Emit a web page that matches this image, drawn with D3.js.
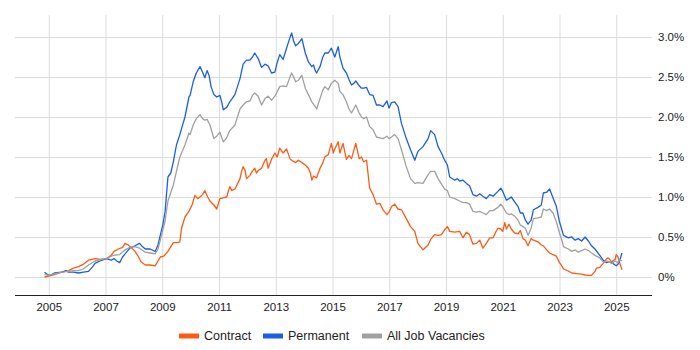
<!DOCTYPE html>
<html>
<head>
<meta charset="utf-8">
<script src="https://cdn.jsdelivr.net/npm/d3@7"></script>
<style>
  html, body { margin: 0; padding: 0; background: #fff; }
  svg { display: block; font-family: "Liberation Sans", Arial, sans-serif; }
</style>
</head>
<body>
<svg id="chart" width="700" height="350"></svg>
<script>
// ---- Data (year, % share) ----
const contract = [
  [2004.85,0.00],[2005.0,0.01],[2005.2,0.03],[2005.46,0.06],[2005.7,0.08],[2005.87,0.11],[2006.05,0.13],[2006.22,0.16],
  [2006.4,0.21],[2006.63,0.23],[2006.85,0.22],[2007.04,0.23],[2007.2,0.27],[2007.3,0.32],[2007.45,0.35],[2007.6,0.37],
  [2007.69,0.42],[2007.8,0.40],[2007.9,0.37],[2008.04,0.32],[2008.15,0.26],[2008.25,0.19],[2008.4,0.15],[2008.57,0.15],
  [2008.75,0.14],[2008.93,0.25],[2009.05,0.26],[2009.2,0.32],[2009.39,0.43],[2009.55,0.43],[2009.62,0.44],[2009.68,0.61],
  [2009.8,0.75],[2009.94,0.82],[2010.05,0.90],[2010.15,1.02],[2010.25,0.98],[2010.33,1.00],[2010.42,1.03],[2010.5,1.08],
  [2010.6,1.00],[2010.68,0.95],[2010.82,0.90],[2010.92,0.85],[2011.03,0.98],[2011.15,0.99],[2011.27,1.00],[2011.38,1.13],
  [2011.45,1.08],[2011.56,1.10],[2011.66,1.17],[2011.74,1.23],[2011.8,1.33],[2011.85,1.38],[2011.92,1.33],[2011.97,1.23],
  [2012.09,1.27],[2012.17,1.32],[2012.26,1.36],[2012.32,1.30],[2012.38,1.33],[2012.5,1.36],[2012.62,1.46],[2012.67,1.48],
  [2012.73,1.36],[2012.85,1.47],[2012.97,1.55],[2013.05,1.50],[2013.14,1.61],[2013.26,1.55],[2013.38,1.60],[2013.5,1.48],
  [2013.56,1.46],[2013.7,1.43],[2013.8,1.46],[2013.92,1.43],[2014.04,1.40],[2014.15,1.36],[2014.22,1.30],[2014.27,1.21],
  [2014.33,1.26],[2014.44,1.24],[2014.56,1.36],[2014.65,1.42],[2014.73,1.50],[2014.85,1.53],[2014.96,1.67],[2015.03,1.55],
  [2015.08,1.60],[2015.2,1.69],[2015.26,1.55],[2015.37,1.67],[2015.49,1.47],[2015.58,1.52],[2015.67,1.48],[2015.82,1.67],
  [2015.94,1.48],[2016.02,1.50],[2016.1,1.44],[2016.2,1.46],[2016.31,1.11],[2016.43,1.03],[2016.55,0.91],[2016.67,0.92],
  [2016.78,0.84],[2016.92,0.78],[2016.99,0.81],[2017.08,0.88],[2017.19,0.91],[2017.31,0.85],[2017.43,0.84],[2017.6,0.73],
  [2017.75,0.63],[2017.9,0.57],[2018.01,0.42],[2018.19,0.34],[2018.37,0.40],[2018.46,0.47],[2018.6,0.53],[2018.72,0.52],
  [2018.84,0.53],[2018.95,0.59],[2019.05,0.63],[2019.13,0.57],[2019.31,0.56],[2019.48,0.57],[2019.6,0.49],[2019.72,0.56],
  [2019.83,0.53],[2019.95,0.41],[2020.07,0.42],[2020.19,0.46],[2020.3,0.36],[2020.42,0.42],[2020.54,0.49],[2020.66,0.49],
  [2020.75,0.56],[2020.83,0.61],[2020.93,0.60],[2021.0,0.57],[2021.07,0.68],[2021.13,0.60],[2021.22,0.66],[2021.3,0.60],
  [2021.42,0.55],[2021.54,0.54],[2021.62,0.58],[2021.71,0.48],[2021.8,0.46],[2021.89,0.39],[2022.0,0.48],[2022.08,0.46],
  [2022.24,0.44],[2022.36,0.40],[2022.43,0.39],[2022.55,0.34],[2022.65,0.30],[2022.77,0.28],[2022.89,0.26],[2023.0,0.18],
  [2023.1,0.13],[2023.14,0.10],[2023.31,0.075],[2023.43,0.05],[2023.55,0.045],[2023.66,0.04],[2023.78,0.035],[2023.9,0.025],
  [2024.02,0.02],[2024.13,0.02],[2024.25,0.07],[2024.3,0.11],[2024.42,0.12],[2024.54,0.17],[2024.66,0.23],[2024.72,0.24],
  [2024.84,0.19],[2024.96,0.22],[2025.0,0.28],[2025.06,0.25],[2025.12,0.18],[2025.2,0.09]
];

const permanent = [
  [2004.85,0.06],[2004.95,0.03],[2005.05,0.02],[2005.2,0.05],[2005.46,0.06],[2005.6,0.08],[2005.7,0.06],[2005.87,0.06],
  [2006.05,0.05],[2006.22,0.06],[2006.4,0.07],[2006.55,0.13],[2006.63,0.17],[2006.8,0.20],[2007.04,0.23],[2007.2,0.21],
  [2007.3,0.23],[2007.4,0.20],[2007.5,0.18],[2007.6,0.25],[2007.69,0.29],[2007.86,0.36],[2008.04,0.39],[2008.2,0.42],
  [2008.3,0.38],[2008.4,0.35],[2008.57,0.35],[2008.75,0.32],[2008.85,0.40],[2008.93,0.52],[2009.02,0.65],[2009.1,0.82],
  [2009.2,1.25],[2009.3,1.30],[2009.39,1.44],[2009.5,1.65],[2009.62,1.78],[2009.7,1.88],[2009.8,2.00],[2009.94,2.25],
  [2009.98,2.27],[2010.09,2.44],[2010.2,2.55],[2010.33,2.63],[2010.42,2.56],[2010.5,2.49],[2010.58,2.58],[2010.65,2.52],
  [2010.72,2.38],[2010.82,2.28],[2010.92,2.25],[2011.03,2.27],[2011.1,2.18],[2011.15,2.09],[2011.27,2.12],[2011.38,2.19],
  [2011.48,2.24],[2011.56,2.28],[2011.65,2.38],[2011.74,2.48],[2011.85,2.66],[2011.97,2.71],[2012.09,2.71],[2012.18,2.75],
  [2012.26,2.80],[2012.38,2.73],[2012.5,2.62],[2012.62,2.66],[2012.73,2.64],[2012.85,2.55],[2012.97,2.56],[2013.05,2.68],
  [2013.14,2.78],[2013.26,2.72],[2013.38,2.86],[2013.48,2.97],[2013.56,3.05],[2013.63,2.95],[2013.7,2.89],[2013.8,2.92],
  [2013.92,2.98],[2014.04,2.80],[2014.15,2.69],[2014.27,2.63],[2014.33,2.65],[2014.39,2.58],[2014.44,2.55],[2014.56,2.63],
  [2014.65,2.74],[2014.73,2.80],[2014.85,2.80],[2014.96,2.86],[2015.08,2.75],[2015.2,2.88],[2015.26,2.75],[2015.37,2.61],
  [2015.49,2.55],[2015.58,2.47],[2015.67,2.40],[2015.75,2.42],[2015.82,2.45],[2015.94,2.39],[2016.02,2.36],[2016.1,2.36],
  [2016.2,2.37],[2016.31,2.28],[2016.43,2.27],[2016.55,2.15],[2016.67,2.15],[2016.78,2.13],[2016.92,2.20],[2016.99,2.11],
  [2017.08,2.18],[2017.19,2.19],[2017.31,2.13],[2017.43,1.92],[2017.6,1.73],[2017.75,1.59],[2017.9,1.46],[2018.01,1.57],
  [2018.19,1.63],[2018.37,1.73],[2018.46,1.83],[2018.6,1.78],[2018.72,1.63],[2018.84,1.55],[2018.95,1.46],[2019.05,1.40],
  [2019.13,1.25],[2019.31,1.21],[2019.4,1.23],[2019.48,1.20],[2019.6,1.21],[2019.72,1.17],[2019.83,1.14],[2019.95,1.03],
  [2020.07,1.01],[2020.19,1.04],[2020.3,1.01],[2020.42,0.98],[2020.54,1.03],[2020.66,1.01],[2020.83,1.07],[2020.93,1.11],
  [2021.0,1.07],[2021.13,0.96],[2021.22,0.98],[2021.3,1.00],[2021.42,0.94],[2021.54,0.88],[2021.62,0.80],[2021.71,0.80],
  [2021.8,0.71],[2021.89,0.66],[2022.0,0.71],[2022.08,0.84],[2022.24,0.87],[2022.36,0.90],[2022.43,1.05],[2022.55,1.06],
  [2022.65,1.10],[2022.77,0.99],[2022.89,0.88],[2023.0,0.69],[2023.1,0.57],[2023.14,0.52],[2023.31,0.49],[2023.43,0.50],
  [2023.55,0.46],[2023.66,0.48],[2023.78,0.45],[2023.9,0.50],[2024.02,0.45],[2024.13,0.39],[2024.25,0.35],[2024.42,0.27],
  [2024.54,0.21],[2024.66,0.18],[2024.72,0.19],[2024.84,0.18],[2024.96,0.15],[2025.0,0.14],[2025.06,0.16],[2025.12,0.20],
  [2025.2,0.30]
];

const allJobs = [
  [2004.85,0.03],[2005.0,0.02],[2005.2,0.04],[2005.46,0.06],[2005.7,0.07],[2005.87,0.08],[2006.05,0.08],[2006.22,0.10],
  [2006.4,0.15],[2006.63,0.20],[2006.85,0.22],[2007.04,0.23],[2007.2,0.26],[2007.33,0.275],[2007.5,0.28],[2007.69,0.34],
  [2007.86,0.37],[2008.04,0.38],[2008.2,0.36],[2008.4,0.31],[2008.57,0.30],[2008.75,0.29],[2008.85,0.35],[2008.93,0.46],
  [2009.1,0.70],[2009.2,0.95],[2009.39,1.15],[2009.5,1.32],[2009.62,1.50],[2009.8,1.65],[2009.94,1.80],[2009.98,1.78],
  [2010.09,1.90],[2010.2,1.98],[2010.33,2.03],[2010.42,1.98],[2010.5,1.96],[2010.58,1.97],[2010.68,1.90],[2010.82,1.73],
  [2010.92,1.76],[2011.03,1.81],[2011.15,1.69],[2011.27,1.74],[2011.38,1.83],[2011.56,1.90],[2011.65,2.00],[2011.74,2.10],
  [2011.85,2.15],[2011.97,2.19],[2012.09,2.20],[2012.18,2.27],[2012.26,2.30],[2012.38,2.26],[2012.5,2.15],[2012.62,2.23],
  [2012.73,2.26],[2012.85,2.21],[2012.97,2.26],[2013.14,2.38],[2013.26,2.39],[2013.38,2.38],[2013.48,2.48],[2013.56,2.55],
  [2013.63,2.50],[2013.7,2.44],[2013.8,2.46],[2013.92,2.52],[2014.04,2.36],[2014.15,2.28],[2014.27,2.19],[2014.39,2.13],
  [2014.44,2.10],[2014.56,2.23],[2014.65,2.33],[2014.73,2.38],[2014.85,2.34],[2014.96,2.42],[2015.08,2.46],[2015.2,2.42],
  [2015.26,2.32],[2015.37,2.28],[2015.49,2.19],[2015.58,2.10],[2015.67,2.05],[2015.82,2.15],[2015.94,2.05],[2016.02,2.00],
  [2016.1,1.98],[2016.2,2.00],[2016.31,1.88],[2016.43,1.84],[2016.55,1.75],[2016.67,1.74],[2016.78,1.73],[2016.92,1.76],
  [2016.99,1.73],[2017.08,1.75],[2017.19,1.78],[2017.31,1.73],[2017.43,1.59],[2017.6,1.38],[2017.75,1.23],[2017.9,1.17],
  [2018.01,1.18],[2018.19,1.17],[2018.37,1.28],[2018.46,1.32],[2018.6,1.32],[2018.72,1.23],[2018.84,1.16],[2018.95,1.10],
  [2019.05,1.08],[2019.13,1.00],[2019.31,0.98],[2019.48,0.95],[2019.6,0.93],[2019.72,0.93],[2019.83,0.91],[2019.95,0.82],
  [2020.07,0.81],[2020.19,0.82],[2020.3,0.80],[2020.42,0.78],[2020.54,0.83],[2020.66,0.83],[2020.83,0.87],[2020.93,0.91],
  [2021.0,0.88],[2021.13,0.80],[2021.22,0.78],[2021.3,0.79],[2021.42,0.76],[2021.54,0.71],[2021.62,0.65],[2021.71,0.63],
  [2021.8,0.61],[2021.89,0.52],[2022.0,0.61],[2022.08,0.73],[2022.24,0.74],[2022.36,0.75],[2022.43,0.85],[2022.55,0.83],
  [2022.65,0.85],[2022.77,0.80],[2022.89,0.69],[2023.0,0.55],[2023.1,0.44],[2023.14,0.38],[2023.31,0.35],[2023.43,0.32],
  [2023.55,0.34],[2023.66,0.31],[2023.78,0.33],[2023.9,0.35],[2024.02,0.33],[2024.13,0.30],[2024.25,0.27],[2024.42,0.24],
  [2024.54,0.19],[2024.66,0.20],[2024.84,0.17],[2024.96,0.20],[2025.06,0.18],[2025.12,0.22],[2025.2,0.20]
];

const xTicks = [2005, 2007, 2009, 2011, 2013, 2015, 2017, 2019, 2021, 2023, 2025];
const yTicks = [0, 0.5, 1.0, 1.5, 2.0, 2.5, 3.0];
const yTickLabels = ["0%", "0.5%", "1.0%", "1.5%", "2.0%", "2.5%", "3.0%"];
const seriesNames = ["Contract", "Permanent", "All Job Vacancies"];
const seriesColors = ["#ff5a14", "#1a5ee6", "#a0a0a0"];

// ---- Chart ----
const svg = d3.select("#chart");
const plotLeft = 15, plotRight = 652, plotTop = 15, plotBottom = 295;

const x = d3.scaleLinear().domain([2003.81, 2026.26]).range([plotLeft, plotRight]);
const y = d3.scaleLinear().domain([-0.225, 3.275]).range([plotBottom, plotTop]);

// horizontal gridlines + right labels
const yAxis = d3.axisRight(y)
  .tickValues(yTicks)
  .tickSize(-(plotRight - plotLeft))
  .tickFormat((d, i) => yTickLabels[i]);
const gy = svg.append("g").attr("transform", `translate(${plotRight},0)`).call(yAxis);
gy.select(".domain").remove();
gy.selectAll(".tick line").attr("stroke", "#dddddd").attr("stroke-width", 1);
gy.selectAll(".tick text").attr("x", 6).attr("fill", "#222").style("font-size", "11.5px")
  .style("font-family", "'Liberation Sans', Arial, sans-serif");

// vertical gridlines + bottom labels
const xAxis = d3.axisBottom(x)
  .tickValues(xTicks)
  .tickSize(-(plotBottom - plotTop))
  .tickFormat(d3.format("d"));
const gx = svg.append("g").attr("transform", `translate(0,${plotBottom})`).call(xAxis);
gx.select(".domain").remove();
gx.selectAll(".tick line").attr("stroke", "#dddddd").attr("stroke-width", 1);
gx.selectAll(".tick text").attr("y", 8).attr("fill", "#222").style("font-size", "11.5px")
  .style("font-family", "'Liberation Sans', Arial, sans-serif");

// baseline
svg.append("line")
  .attr("x1", plotLeft).attr("x2", plotRight)
  .attr("y1", plotBottom + 0.5).attr("y2", plotBottom + 0.5)
  .attr("stroke", "#222").attr("stroke-width", 1);

// lines
const line = d3.line().x(d => x(d[0])).y(d => y(d[1])).curve(d3.curveLinear);
[contract, permanent, allJobs].forEach((data, i) => {
  svg.append("path")
    .datum(data)
    .attr("fill", "none")
    .attr("stroke", seriesColors[i])
    .attr("stroke-width", 1.3)
    .attr("stroke-linejoin", "round")
    .attr("d", line);
});

// legend
const legendX = [179, 263, 362];
const legend = svg.append("g");
seriesNames.forEach((name, i) => {
  const g = legend.append("g").attr("transform", `translate(${legendX[i]},336)`);
  g.append("line").attr("x1", 0).attr("x2", 20).attr("y1", 0).attr("y2", 0)
    .attr("stroke", seriesColors[i]).attr("stroke-width", 5);
  g.append("text").attr("x", 25).attr("y", 0).attr("dy", "0.35em")
    .attr("fill", "#222").style("font-size", "12.5px").text(name);
});
</script>
</body>
</html>
